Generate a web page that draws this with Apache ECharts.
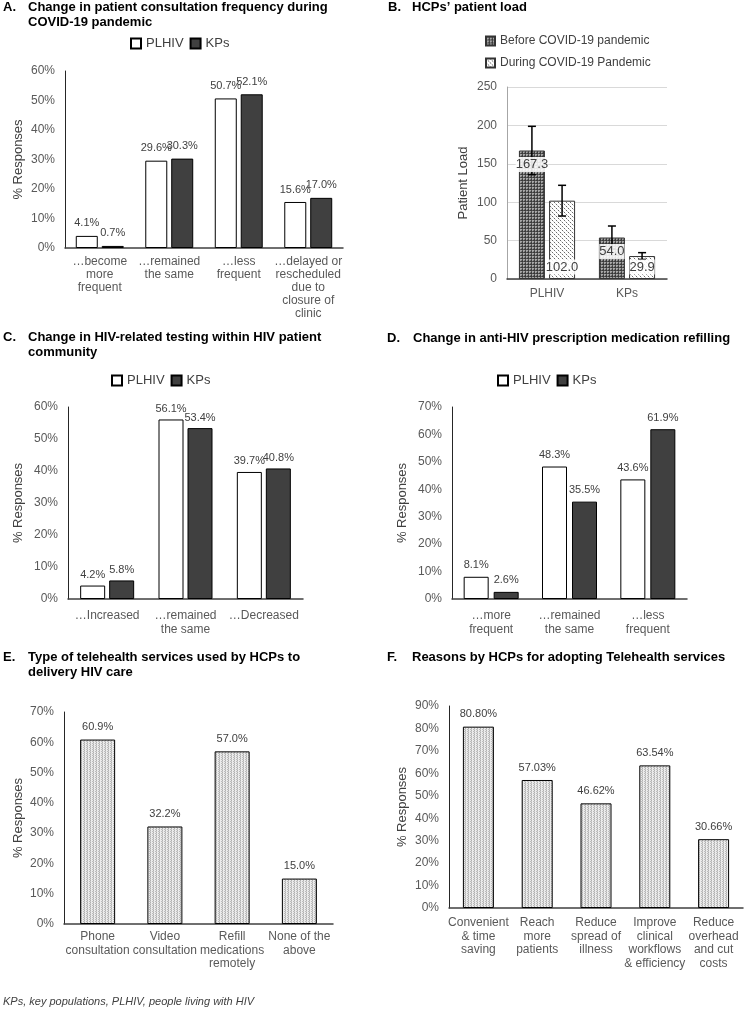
<!DOCTYPE html>
<html><head><meta charset="utf-8">
<script src="https://cdn.jsdelivr.net/npm/echarts@6/dist/echarts.min.js"></script>
<style>html,body{margin:0;padding:0;background:#fff}#c{width:750px;height:1017px}</style>
</head><body><div id="c"></div>
<script>
const FONT = '"Liberation Sans", Arial, Helvetica, sans-serif';

// ---- Panel A ----
const catsA = ['…become\nmore\nfrequent', '…remained\nthe same', '…less\nfrequent', '…delayed or\nrescheduled\ndue to\nclosure of\nclinic'];
const plhivA = [4.1, 29.6, 50.7, 15.6];
const kpsA = [0.7, 30.3, 52.1, 17.0];

// ---- Panel B ----
const catsB = ['PLHIV', 'KPs'];
const beforeB = [167.3, 54.0];
const beforeErrB = [31.5, 15.0];
const duringB = [102.0, 29.9];
const duringErrB = [20.0, 4.4];

// ---- Panel C ----
const catsC = ['…Increased', '…remained\nthe same', '…Decreased'];
const plhivC = [4.2, 56.1, 39.7];
const kpsC = [5.8, 53.4, 40.8];

// ---- Panel D ----
const catsD = ['…more\nfrequent', '…remained\nthe same', '…less\nfrequent'];
const plhivD = [8.1, 48.3, 43.6];
const kpsD = [2.6, 35.5, 61.9];

// ---- Panel E ----
const catsE = ['Phone\nconsultation', 'Video\nconsultation', 'Refill\nmedications\nremotely', 'None of the\nabove'];
const valsE = [60.9, 32.2, 57.0, 15.0];

// ---- Panel F ----
const catsF = ['Convenient\n& time\nsaving', 'Reach\nmore\npatients', 'Reduce\nspread of\nillness', 'Improve\nclinical\nworkflows\n& efficiency', 'Reduce\noverhead\nand cut\ncosts'];
const valsF = [80.80, 57.03, 46.62, 63.54, 30.66];

const titles = [
  ['A.', 'Change in patient consultation frequency during\nCOVID-19 pandemic'],
  ['B.', 'HCPs\u2019 patient load'],
  ['C.', 'Change in HIV-related testing within HIV patient\ncommunity'],
  ['D.', 'Change in anti-HIV prescription medication refilling'],
  ['E.', 'Type of telehealth services used by HCPs to\ndelivery HIV care'],
  ['F.', 'Reasons by HCPs for adopting Telehealth services']
];
const footnote = 'KPs, key populations, PLHIV, people living with HIV';

function pattern(w, h, bg, pts) {
  const c = document.createElement('canvas');
  c.width = w; c.height = h;
  const g = c.getContext('2d');
  g.fillStyle = bg; g.fillRect(0, 0, w, h);
  pts.forEach(p => { g.fillStyle = p[2]; g.fillRect(p[0], p[1], 1, 1); });
  return { image: c, repeat: 'repeat' };
}
const patBefore = pattern(3, 3, '#a8a8a8', [[0,0,'#3a3a3a'],[0,1,'#555'],[0,2,'#3a3a3a'],[1,0,'#555'],[2,0,'#3a3a3a'],[2,2,'#777']]);
const patDuring = pattern(4, 4, '#ffffff', [[0,0,'#6a6a6a'],[2,2,'#6a6a6a'],[1,1,'#d0d0d0'],[3,3,'#d0d0d0']]);
const patLight = pattern(3, 2, '#ececec', [[0,0,'#b0b0b0'],[0,1,'#cccccc'],[2,1,'#bcbcbc']]);

const TICK_COLOR = '#595959';
const grids = [
  { left: 65, top: 71, width: 278, height: 177 },   // A
  { left: 507, top: 87, width: 160, height: 192 },  // B
  { left: 68, top: 407, width: 235, height: 192 },  // C
  { left: 452, top: 407, width: 235, height: 192 }, // D
  { left: 64, top: 712, width: 269, height: 212 },  // E
  { left: 449, top: 706, width: 294, height: 202 }  // F
];

function xAx(idx, data, margin, lh) {
  return {
    type: 'category', gridIndex: idx, data: data,
    axisTick: { show: false },
    axisLine: { lineStyle: { color: '#404040', width: 1.5 } },
    axisLabel: { interval: 0, margin: margin, fontSize: 12, lineHeight: lh, color: TICK_COLOR, fontFamily: FONT }
  };
}
function yAx(idx, max, interval, pct, name, gap) {
  return {
    type: 'value', gridIndex: idx, min: 0, max: max, interval: interval,
    name: name, nameLocation: 'middle', nameGap: gap,
    nameTextStyle: { fontSize: 13, color: '#404040', fontFamily: FONT },
    axisLine: { show: true, lineStyle: { color: pct ? '#262626' : '#a6a6a6', width: 1 } },
    axisTick: { show: false },
    splitLine: { show: !pct, lineStyle: { color: '#d9d9d9' } },
    axisLabel: { fontSize: 12, color: TICK_COLOR, fontFamily: FONT, margin: 10, formatter: pct ? '{value}%' : '{value}' }
  };
}
function lbl(dist, dec) {
  return { show: true, position: 'top', distance: dist, fontSize: 11, color: '#404040', fontFamily: FONT,
    formatter: p => p.value.toFixed(dec) + '%' };
}
function pair(idx, name, data, bw, gap, color, dist) {
  return { type: 'bar', name: name, xAxisIndex: idx, yAxisIndex: idx, data: data, barWidth: bw, barGap: gap,
    itemStyle: { color: color, borderColor: '#000', borderWidth: 1 }, label: lbl(dist, 1) };
}

const BW_B = 26, GAP_B = 0.16;
function errSeries(vals, errs, sign, mode) {
  return {
    type: 'custom', xAxisIndex: 1, yAxisIndex: 1, z: 5,
    data: vals.map((v, i) => [i, v, errs[i]]),
    renderItem: function (params, api) {
      const i = api.value(0), v = api.value(1), e = api.value(2);
      const base = api.coord([i, 0]);
      const x = base[0] + sign * (BW_B + BW_B * GAP_B) / 2;
      const yt = api.coord([i, v + e])[1];
      const yb = api.coord([i, v - e])[1];
      const yv = api.coord([i, v])[1];
      const ly = mode === 'top' ? yv + 14 : base[1] - 12;
      const st = { stroke: '#000', lineWidth: 1.5 };
      return { type: 'group', children: [
        { type: 'line', shape: { x1: x, y1: yt, x2: x, y2: yb }, style: st },
        { type: 'line', shape: { x1: x - 4, y1: yt, x2: x + 4, y2: yt }, style: st },
        { type: 'line', shape: { x1: x - 4, y1: yb, x2: x + 4, y2: yb }, style: st },
        { type: 'text', x: x, y: ly, style: { text: v.toFixed(1), fontSize: 13, fontFamily: FONT, fill: '#404040',
          align: 'center', verticalAlign: 'middle', backgroundColor: 'rgba(255,255,255,0.88)', padding: [1, 0] } }
      ] };
    }
  };
}

const titleComps = [];
const tpos = [[3, 28, 0], [388, 412, 0], [3, 28, 330], [387, 413, 331], [3, 28, 650], [387, 412, 650]];
titles.forEach((t, k) => {
  const ts = { fontSize: 13, fontWeight: 'bold', color: '#000', fontFamily: FONT, lineHeight: 15 };
  titleComps.push({ text: t[0], left: tpos[k][0], top: tpos[k][2], padding: 0, textStyle: ts });
  titleComps.push({ text: t[1], left: tpos[k][1], top: tpos[k][2], padding: 0, textStyle: ts });
});

function legendPair(left, top) {
  return { data: ['PLHIV', 'KPs'], left: left, top: top, icon: 'rect', itemWidth: 10, itemHeight: 10, itemGap: 6, padding: 0,
    selectedMode: false, textStyle: { fontSize: 13, color: '#404040', fontFamily: FONT } };
}

const option = {
  backgroundColor: '#fff',
  animation: false,
  textStyle: { fontFamily: FONT },
  title: titleComps,
  legend: [
    legendPair(130, 37),
    legendPair(111, 374),
    legendPair(497, 374),
    { data: ['Before COVID-19 pandemic', 'During COVID-19 Pandemic'], orient: 'vertical', left: 485, top: 35,
      icon: 'rect', itemWidth: 9, itemHeight: 9, itemGap: 10, padding: 0, selectedMode: false,
      textStyle: { fontSize: 12, color: '#404040', fontFamily: FONT } }
  ],
  grid: grids,
  xAxis: [xAx(0, catsA, 7, 13), xAx(1, catsB, 8, 14), xAx(2, catsC, 10, 14), xAx(3, catsD, 10, 14), xAx(4, catsE, 6, 13.5), xAx(5, catsF, 8, 13.5)],
  yAxis: [
    yAx(0, 60, 10, true, '% Responses', 40),
    yAx(1, 250, 50, false, 'Patient Load', 37),
    yAx(2, 60, 10, true, '% Responses', 43),
    yAx(3, 70, 10, true, '% Responses', 43),
    yAx(4, 70, 10, true, '% Responses', 39),
    yAx(5, 90, 10, true, '% Responses', 40)
  ],
  series: [
    pair(0, 'PLHIV', plhivA, 22, '18%', '#ffffff', 7),
    pair(0, 'KPs', kpsA, 22, '18%', '#404040', 7),
    { type: 'bar', name: 'Before COVID-19 pandemic', xAxisIndex: 1, yAxisIndex: 1, data: beforeB, barWidth: BW_B, barGap: (GAP_B * 100) + '%',
      itemStyle: { color: patBefore, borderColor: '#333', borderWidth: 1 } },
    { type: 'bar', name: 'During COVID-19 Pandemic', xAxisIndex: 1, yAxisIndex: 1, data: duringB, barWidth: BW_B, barGap: (GAP_B * 100) + '%',
      itemStyle: { color: patDuring, borderColor: '#333', borderWidth: 1 } },
    errSeries(beforeB, beforeErrB, -1, 'top'),
    errSeries(duringB, duringErrB, 1, 'base'),
    pair(2, 'PLHIV', plhivC, 25, '16%', '#ffffff', 5),
    pair(2, 'KPs', kpsC, 25, '16%', '#404040', 5),
    pair(3, 'PLHIV', plhivD, 25, '20%', '#ffffff', 6),
    pair(3, 'KPs', kpsD, 25, '20%', '#404040', 6),
    { type: 'bar', name: 'E', xAxisIndex: 4, yAxisIndex: 4, data: valsE, barWidth: 35,
      itemStyle: { color: patLight, borderColor: '#000', borderWidth: 1 }, label: lbl(7, 1) },
    { type: 'bar', name: 'F', xAxisIndex: 5, yAxisIndex: 5, data: valsF, barWidth: 31,
      itemStyle: { color: patLight, borderColor: '#000', borderWidth: 1 }, label: lbl(7, 2) }
  ],
  graphic: [
    { type: 'text', left: 3, top: 996, style: { text: footnote, fontSize: 11, fontStyle: 'italic', fill: '#404040', fontFamily: FONT } }
  ]
};

const chart = echarts.init(document.getElementById('c'), null, { renderer: 'canvas', width: 750, height: 1017 });
chart.setOption(option);
</script>
</body></html>
